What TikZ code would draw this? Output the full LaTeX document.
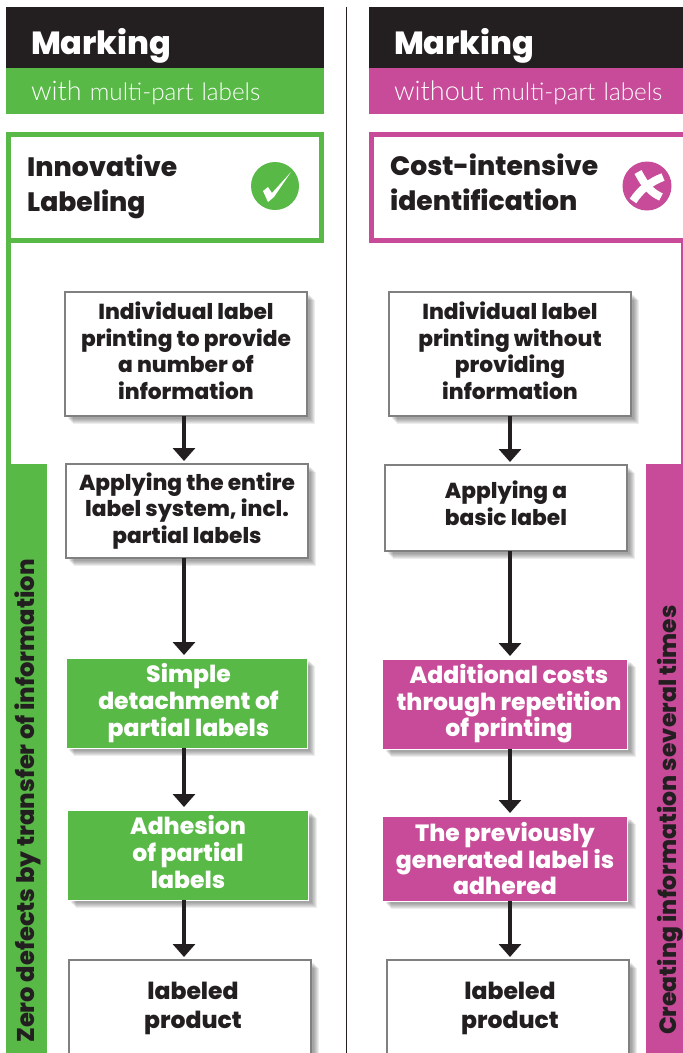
\documentclass[tikz,border=0pt]{standalone}
\usepackage{fontspec}
\setmainfont{Poppins}[BoldFont={Poppins ExtraBold}]
\newfontfamily\thinfont{Lato Light}
\usetikzlibrary{arrows.meta,shadows}
\definecolor{markgreen}{HTML}{58B947}
\definecolor{markpink}{HTML}{C74B98}
\definecolor{markblack}{HTML}{231F20}
\tikzset{
  headbar/.style={anchor=north west, inner ysep=0pt, inner xsep=25pt, outer sep=0pt, text height=47pt, text depth=14pt, fill=markblack, text=white, align=left, font=\fontsize{32}{32}\selectfont\bfseries},
  subbar/.style={anchor=north west, inner ysep=0pt, inner xsep=25pt, outer sep=0pt, text height=32pt, text depth=14pt, text=white, align=left, font=\fontsize{24.3}{24}\selectfont\thinfont},
  titleframe/.style={anchor=north west, draw, line width=5pt, fill=white, inner sep=0pt, outer sep=0pt},
  titletext/.style={anchor=west, inner sep=0pt, align=left, text=markblack, font=\fontsize{26.6}{34.5}\selectfont\bfseries},
  softshadow/.style={drop shadow={shadow xshift=#1, shadow yshift=-#1, opacity=.07, fill=black}},
  stepshadow/.style={softshadow=3pt, softshadow=4pt, softshadow=5pt, softshadow=6pt, softshadow=7pt, softshadow=8pt},
  plainstep/.style={anchor=north west, draw=gray, line width=1.2pt, fill=white, stepshadow, inner sep=0pt, outer sep=0pt, align=center, text=markblack, font=\fontsize{21.7}{26.6}\selectfont\bfseries},
  colorstep/.style={anchor=north west, draw=white, line width=1pt, stepshadow, inner sep=0pt, outer sep=0pt, align=center, text=white, font=\fontsize{23.5}{26.6}\selectfont\bfseries},
  sidetext/.style={anchor=west, rotate=90, inner sep=0pt, text=markblack, font=\fontsize{24.2}{24}\selectfont\bfseries},
  endstep/.style={plainstep, font=\fontsize{23.5}{29}\selectfont\bfseries},
  flow/.style={draw=markblack, line width=3.4pt, -{Triangle[width=22pt,length=13pt]}, shorten >=3pt}
}
\newcommand{\bigword}[1]{{\fontsize{27}{27}\selectfont #1}}
\begin{document}
\begin{tikzpicture}[x=1pt,y=-1pt]
\useasboundingbox (0,0) rectangle (683,1053);
\clip (0,0) rectangle (683,1053);
% left column
\node[headbar, text width=268pt] (headl) at (6,7){Marking};
\node[subbar, fill=markgreen, text width=268pt] (subl) at (6,68){\mbox{\bigword{with} multi-part labels}};
\fill[markgreen] (6,240) rectangle (11,470);
\fill[markgreen] (6,464) rectangle (47,1053);
\node[titleframe, draw=markgreen, minimum width=313pt, minimum height=106pt] (framel) at (8.5,134.5){};
\node[titletext] (titlel) at (27,187){Innovative\\Labeling};
\node[circle, fill=markgreen, minimum size=48pt, inner sep=0pt] (okl) at (275,186){};
\fill[white] (263,191) -- (268,187) -- (272,193) -- (291,172) -- (274,197) -- (268,202) -- cycle;
\node[sidetext] (sidel) at (27.5,1043){Zero defects by transfer of information};
\node[plainstep, minimum width=242pt, minimum height=124pt] (la) at (65,292){Individual label\\printing to provide\\a number of\\information\\[-19.6pt]};
\node[plainstep, minimum width=242pt, minimum height=94pt] (lb) at (66,464){Applying the entire\\label system, incl.\\partial labels};
\node[colorstep, fill=markgreen, minimum width=241pt, minimum height=90pt] (lc) at (66,658){\hspace*{4pt}Simple\\\hspace*{4pt}detachment of\\\hspace*{4pt}partial labels};
\node[colorstep, fill=markgreen, minimum width=241pt, minimum height=90pt] (ld) at (67.5,810){Adhesion\\of partial\\labels\\[-20.6pt]};
\node[endstep, minimum width=242pt, minimum height=100pt] (le) at (69,960){\hspace*{6pt}labeled\\\hspace*{6pt}product\\[-20pt]};
\draw[flow] (la.south -| 184,0) -- (lb.north -| 184,0);
\draw[flow] (lb.south -| 184,0) -- (lc.north -| 184,0);
\draw[flow] (lc.south -| 184,0) -- (ld.north -| 184,0);
\draw[flow] (ld.south -| 184,0) -- (le.north -| 184,0);
% separator
\coordinate (septop) at (346,7);
\coordinate (sepbot) at (346,1053);
\draw[markblack, line width=1pt] (septop) -- (sepbot);
% right column
\node[headbar, text width=264pt] (headr) at (369,7){Marking};
\node[subbar, fill=markpink, text width=264pt] (subr) at (369,68){\mbox{\bigword{without} multi-part labels}};
\fill[markpink] (681,240) rectangle (683,470);
\fill[markpink] (646,464) rectangle (683,1053);
\node[titleframe, draw=markpink, minimum width=320pt, minimum height=106pt] (framer) at (371.5,134.5){};
\node[titletext] (titler) at (390,182){Cost-intensive\\identification};
\node[circle, fill=markpink, minimum size=49pt, inner sep=0pt] (nor) at (647,186){};
\draw[white, line width=8pt] (638,172) .. controls (645,185) and (650,192) .. (661,197);
\draw[white, line width=8pt] (663,177) .. controls (650,182) and (640,190) .. (633,201);
\node[sidetext, font=\fontsize{23.5}{24}\selectfont\bfseries] (sider) at (670,1035){Creating information several times};
\node[plainstep, minimum width=242pt, minimum height=124pt] (ra) at (389,292){Individual label\\printing without\\providing\\information\\[-19.6pt]};
\node[plainstep, minimum width=242pt, minimum height=86pt] (rb) at (385,465){Applying a\\basic label\\[-16.6pt]};
\node[colorstep, fill=markpink, minimum width=245pt, minimum height=90pt] (rc) at (382.5,659){\hspace*{8pt}Additional costs\\\hspace*{8pt}through repetition\\\hspace*{8pt}of printing};
\node[colorstep, fill=markpink, minimum width=245pt, minimum height=85pt] (rd) at (382.5,816){The previously\\generated label is\\adhered};
\node[endstep, minimum width=242pt, minimum height=100pt] (re) at (387,960){\hspace*{4pt}labeled\\\hspace*{4pt}product\\[-20pt]};
\draw[flow] (ra.south -| 510,0) -- (rb.north -| 510,0);
\draw[flow] (rb.south -| 510,0) -- (rc.north -| 510,0);
\draw[flow] (rc.south -| 510,0) -- (rd.north -| 510,0);
\draw[flow] (rd.south -| 510,0) -- (re.north -| 510,0);
\end{tikzpicture}
\end{document}
